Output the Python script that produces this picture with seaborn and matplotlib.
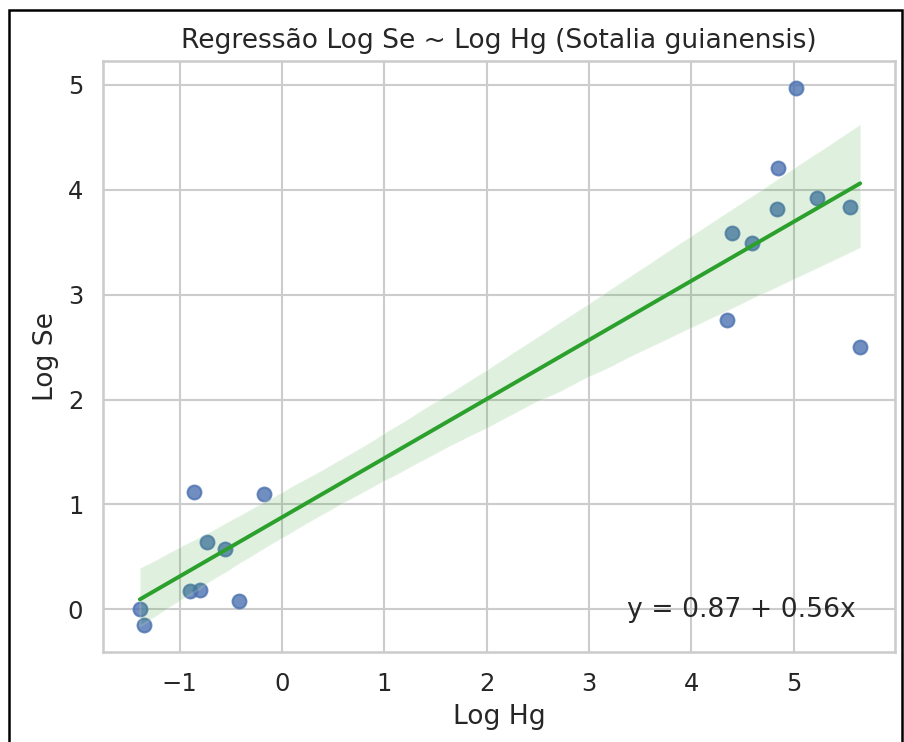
import numpy as np
import pandas as pd
import matplotlib
matplotlib.use("Agg")
import matplotlib.pyplot as plt
import seaborn as sns
from matplotlib.patches import Rectangle

# Log-transformed concentrations
log_hg = [-1.39, -1.35, -0.86, -0.90, -0.80, -0.73, -0.56, -0.42, -0.18,
          4.35, 4.40, 4.59, 4.85, 4.84, 5.02, 5.23, 5.55, 5.65]
log_se = [0.00, -0.15, 1.12, 0.17, 0.18, 0.64, 0.57, 0.08, 1.10,
          2.76, 3.59, 3.49, 4.21, 3.82, 4.97, 3.92, 3.84, 2.50]

intercept = 0.87
slope = 0.56

df = pd.DataFrame({"Log Hg": log_hg, "Log Se": log_se})

sns.set_theme(style="whitegrid", font_scale=1.06)
fig = plt.figure(figsize=(904 / 150, 742 / 150), dpi=150)
ax = fig.add_axes([0.114, 0.121, 0.876, 0.797])

sns.regplot(data=df, x="Log Hg", y="Log Se", ax=ax, seed=0,
            scatter_kws={"color": "#4c72b0", "s": 44},
            line_kws={"color": "tab:green", "lw": 1.9})

ax.set_xlim(-1.75, 5.99)
ax.set_ylim(-0.41, 5.23)

ax.text(0.95, 0.05, f"y = {intercept:.2f} + {slope:.2f}x",
        transform=ax.transAxes, ha="right", va="bottom", fontsize=12.8)
ax.set_title("Regressão Log Se ~ Log Hg (Sotalia guianensis)")
ax.set_xlabel("Log Hg")
ax.set_ylabel("Log Se")

# notebook output frame
fig.patches.append(Rectangle((9 / 904, -0.05), 893 / 904, 1 - 10 / 742 + 0.05,
                             transform=fig.transFigure, fill=False,
                             edgecolor="black", linewidth=1.2))

fig.savefig("out.png", dpi=150)
